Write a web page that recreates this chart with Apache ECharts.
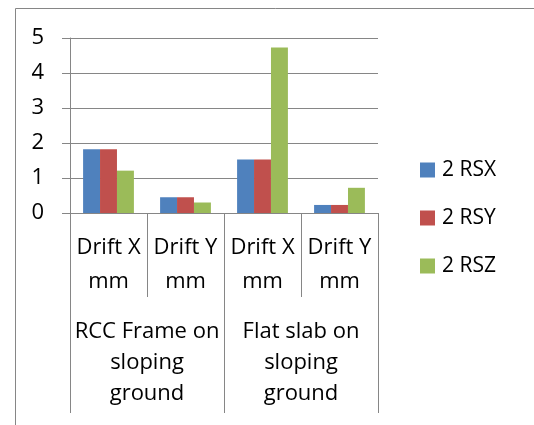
<!DOCTYPE html>
<html>
<head>
<meta charset="utf-8">
<script src="https://cdn.jsdelivr.net/npm/echarts@6/dist/echarts.min.js"></script>
<style>
  html, body { margin: 0; padding: 0; background: #fff; }
  #chart { width: 534px; height: 425px; }
</style>
</head>
<body>
<div id="chart"></div>
<script>
// Inner category level: drift direction
const categories = ['Drift X\nmm', 'Drift Y\nmm', 'Drift X\nmm', 'Drift Y\nmm'];
// Outer category level: structural system
const groups = ['RCC Frame on\nsloping\nground', 'Flat slab on\nsloping\nground'];
// Value axis ticks
const yTicks = [0, 1, 2, 3, 4, 5];
// Series values (drift, mm)
const seriesNames = ['2 RSX', '2 RSY', '2 RSZ'];
const rsx = [1.82, 0.45, 1.53, 0.23];
const rsy = [1.82, 0.45, 1.53, 0.23];
const rsz = [1.21, 0.30, 4.73, 0.72];

const FONT = 'Open Sans';
const AXIS_GRAY = '#868686';
const colors = ['#4F81BD', '#C0504D', '#9BBB59'];

const chart = echarts.init(document.getElementById('chart'), null, { renderer: 'canvas' });

chart.setOption({
  animation: false,
  backgroundColor: '#ffffff',
  textStyle: { fontFamily: FONT },
  color: colors,
  grid: { left: 70, right: 156, top: 38, bottom: 212, containLabel: false },
  legend: {
    orient: 'vertical',
    left: 420,
    top: 159,
    padding: 0,
    itemWidth: 15,
    itemHeight: 15,
    itemGap: 26,
    icon: 'rect',
    data: seriesNames,
    textStyle: { fontFamily: FONT, fontSize: 21, color: '#000', lineHeight: 22, padding: [0, 0, 0, 2] }
  },
  xAxis: [
    {
      type: 'category',
      data: categories,
      position: 'bottom',
      axisLine: { show: true, lineStyle: { color: AXIS_GRAY, width: 1 } },
      axisTick: { show: true, length: 84, lineStyle: { color: AXIS_GRAY, width: 1 } },
      axisLabel: { interval: 0, margin: 18, fontFamily: FONT, fontSize: 22, color: '#000', lineHeight: 34, align: 'center' },
      splitLine: { show: false }
    },
    {
      type: 'category',
      data: groups,
      position: 'bottom',
      offset: 0,
      axisLine: { show: false },
      axisTick: { show: true, length: 200, lineStyle: { color: AXIS_GRAY, width: 1 } },
      axisLabel: { interval: 0, margin: 103, fontFamily: FONT, fontSize: 22, color: '#000', lineHeight: 31, align: 'center' },
      splitLine: { show: false }
    }
  ],
  yAxis: {
    type: 'value',
    min: yTicks[0],
    max: yTicks[yTicks.length - 1],
    interval: 1,
    axisLine: { show: true, lineStyle: { color: AXIS_GRAY, width: 1 } },
    axisTick: { show: true, inside: false, length: 8, lineStyle: { color: AXIS_GRAY, width: 1 } },
    axisLabel: { margin: 26, fontFamily: FONT, fontSize: 22, color: '#000' },
    splitLine: { show: true, lineStyle: { color: AXIS_GRAY, width: 1 } }
  },
  series: [
    { name: seriesNames[0], type: 'bar', data: rsx, barGap: '0%', barCategoryGap: '34%' },
    { name: seriesNames[1], type: 'bar', data: rsy, barGap: '0%', barCategoryGap: '34%' },
    { name: seriesNames[2], type: 'bar', data: rsz, barGap: '0%', barCategoryGap: '34%' }
  ],
  graphic: [
    // chart area frame (left and top edges)
    { type: 'polyline', silent: true,
      shape: { points: [[15.5, 430], [15.5, 8.5], [540, 8.5]] },
      style: { stroke: AXIS_GRAY, lineWidth: 1, fill: null } }
  ]
});
</script>
</body>
</html>
